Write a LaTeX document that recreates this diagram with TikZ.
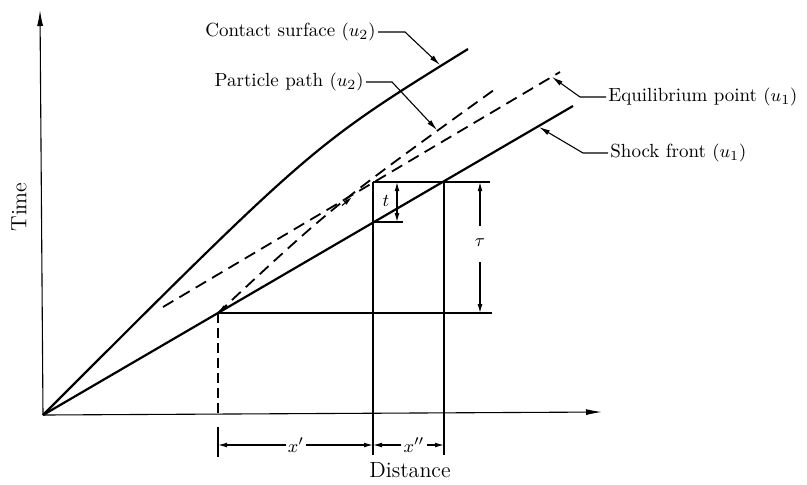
\documentclass[tikz,border=0pt]{standalone}
\usetikzlibrary{arrows.meta}
\begin{document}
\begin{tikzpicture}[x=0.5pt,y=-0.5pt,
  thickline/.style={line width=1.1pt},
  thinline/.style={line width=0.55pt},
  dashline/.style={line width=0.9pt, dash pattern=on 6pt off 3.5pt},
  vdash/.style={line width=0.55pt, dash pattern=on 5pt off 2.5pt},
  tip/.style={-{Latex[length=5.5pt,width=2.6pt]}},
  dtip/.style={{Latex[length=4.5pt,width=2.4pt]}-{Latex[length=4.5pt,width=2.4pt]}},
  smalltip/.style={-{Latex[length=4.5pt,width=2.4pt]}},
  lbl/.style={font=\fontsize{9.5}{11}\selectfont, inner sep=1pt},
  axlbl/.style={font=\fontsize{11}{13}\selectfont, inner sep=1pt},
  dimlbl/.style={font=\fontsize{9.5}{11}\selectfont, inner sep=1pt}]
\useasboundingbox (0,0) rectangle (807,484);
% key points
\coordinate (O) at (43,415);
\coordinate (ytop) at (40,10);
\coordinate (xend) at (602,412);
\coordinate (K) at (218,313);
\coordinate (E) at (373,182);
\coordinate (S) at (373,222);
\coordinate (F) at (444,182);
\coordinate (csend) at (468,49);
\coordinate (sfend) at (573,106);
\coordinate (epstart) at (163,307);
\coordinate (epend) at (560,72);
\coordinate (ppend) at (498,87);
% axes
\draw[thinline,-{Latex[length=8pt,width=3pt]}] (O) -- (ytop);
\draw[thinline,-{Latex[length=8pt,width=3pt]}] (O) -- (xend);
\node[axlbl,rotate=90] (tlab) at (19,207) {Time};
\node[axlbl] (dlab) at (410,470) {Distance};
% curves
\draw[thickline] (O) .. controls (313,145) .. (csend);
\draw[thickline] (O) -- (sfend);
\draw[dashline] (epstart) -- (epend);
\draw[dashline] (K) .. controls (334,205) .. (ppend);
\draw[smalltip,thinline] (227,305.5) -- (K);
\draw[smalltip,thinline] (342,205.5) -- (352,197.2);
% construction lines
\draw[vdash] (K) -- (218,413);
\draw[thinline] (218,427) -- (218,457);
\draw[thinline] (E) -- (373,455);
\draw[thinline] (F) -- (444,455);
\draw[thinline] (E) -- (490,182);
\draw[thinline] (K) -- (492,313);
\draw[thinline] (S) -- (403,222);
% t dimension
\draw[thinline,dtip] (397,182) -- (397,222);
\node[dimlbl] (tl) at (386,201) {$t$};
% tau dimension
\draw[thinline,smalltip] (480,226) -- (480,182);
\draw[thinline,smalltip] (480,262) -- (480,313);
\node[dimlbl] (taul) at (480,243) {$\tau$};
% x' and x''
\node[dimlbl] (xp) at (296,445) {$x'$};
\node[dimlbl] (xpp) at (414,445) {$x''$};
\draw[thinline,smalltip] (xp.west) -- (218,445);
\draw[thinline,smalltip] (xp.east) -- (373,445);
\draw[thinline,smalltip] (xpp.west) -- (373,445);
\draw[thinline,smalltip] (xpp.east) -- (444,445);
% labels with leaders
\node[lbl,anchor=east] (cs) at (378,32) {Contact surface $(u_2)$};
\node[lbl,anchor=east] (pp) at (366,82) {Particle path $(u_2)$};
\node[lbl,anchor=west] (ep) at (606,97) {Equilibrium point $(u_1)$};
\node[lbl,anchor=west] (sf) at (608,153) {Shock front $(u_1)$};
\coordinate (cstip) at (440,65);
\coordinate (pptip) at (437,130);
\coordinate (eptip) at (552,77);
\coordinate (sftip) at (539,127);
\draw[thinline,tip] (cs.east) -- (405,32) -- (cstip);
\draw[thinline,tip] (pp.east) -- (392,82) -- (pptip);
\draw[thinline,tip] (ep.west) -- (580,97) -- (eptip);
\draw[thinline,tip] (sf.west) -- (583,153) -- (sftip);
\end{tikzpicture}
\end{document}
